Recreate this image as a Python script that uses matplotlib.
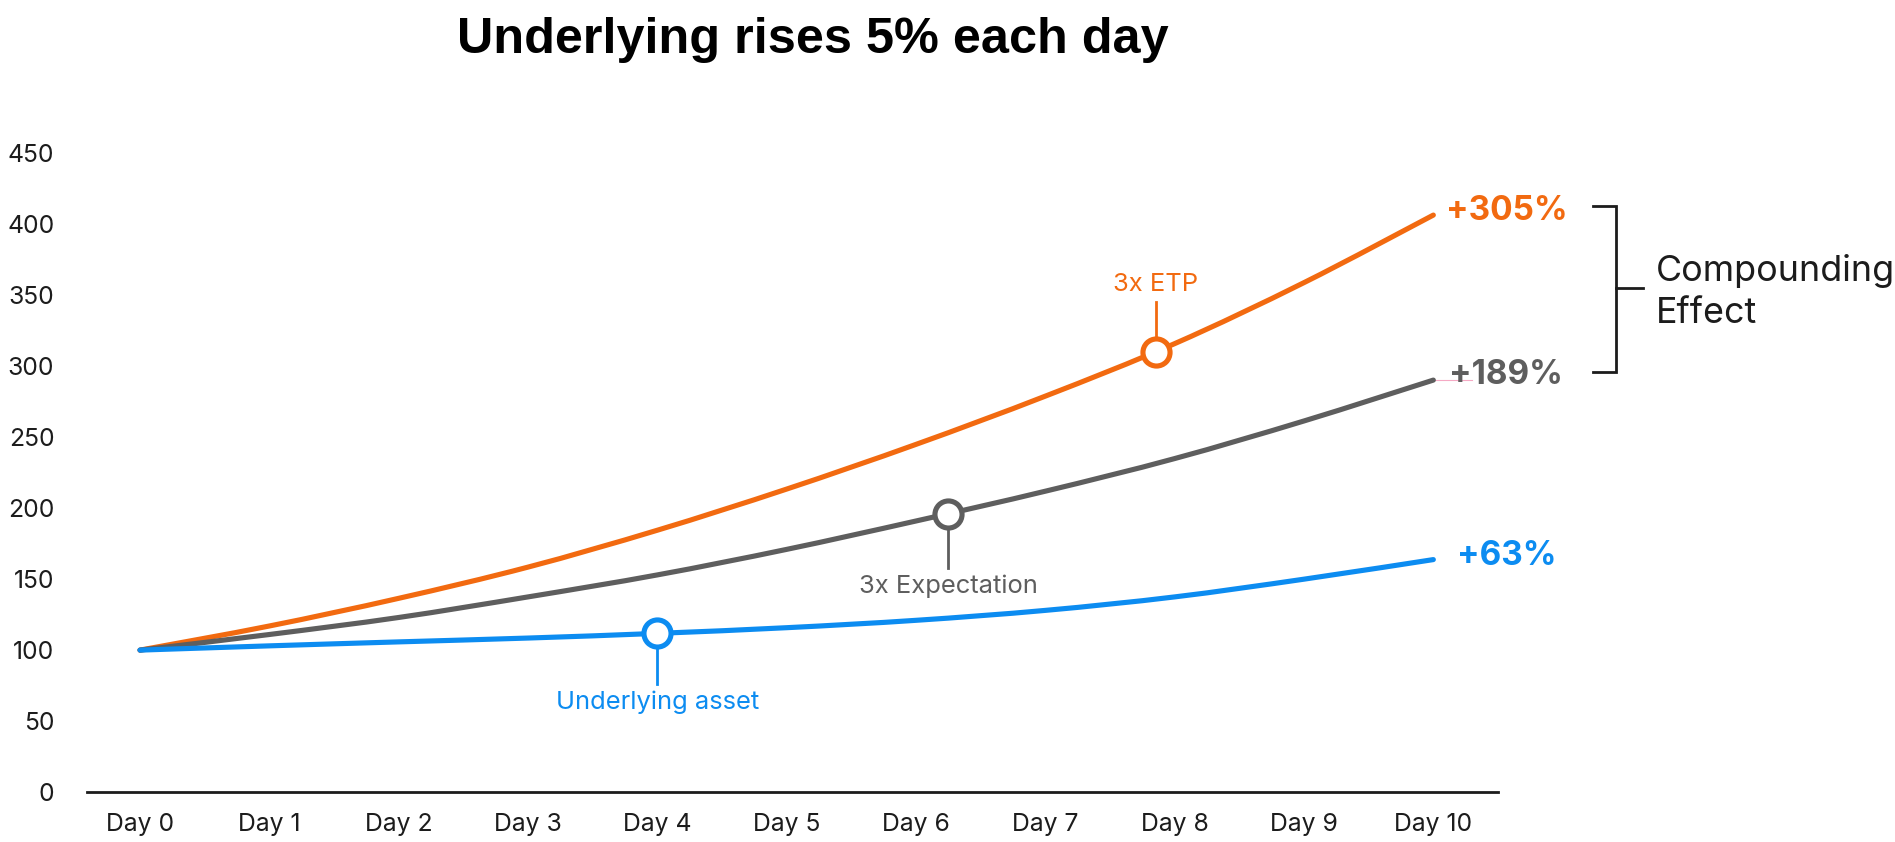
import matplotlib
matplotlib.use("Agg")
import matplotlib.pyplot as plt
from matplotlib.path import Path
from matplotlib.patches import PathPatch
import numpy as np

# ---- data ----
days = list(range(11))
day_labels = [f"Day {d}" for d in days]
underlying = [100, 103.0, 105.8, 108.5, 111.8, 115.8, 121.0, 128.0, 137.5, 150.0, 163.8]
expectation_3x = [100, 111.0, 123.0, 137.5, 153.0, 171.0, 191.0, 212.0, 235.0, 261.5, 290.3]
etp_3x = [100, 117.0, 136.5, 158.5, 184.5, 213.5, 245.0, 279.0, 316.0, 359.0, 406.6]
end_labels = ["+63%", "+189%", "+305%"]
yticks = [0, 50, 100, 150, 200, 250, 300, 350, 400, 450]

marker_days = {"blue": 4.0, "gray": 6.25, "orange": 7.855}

ORANGE = "#F26A10"
GRAY = "#5E5E5E"
BLUE = "#0C8CF1"
DARK = "#1C1C1C"


def bezier_ctrl(xs, ys):
    """Catmull-Rom control points for each segment."""
    xs = np.asarray(xs, float); ys = np.asarray(ys, float)
    n = len(xs)
    segs = []
    for i in range(n - 1):
        p0 = np.array([xs[max(i - 1, 0)], ys[max(i - 1, 0)]])
        p1 = np.array([xs[i], ys[i]])
        p2 = np.array([xs[i + 1], ys[i + 1]])
        p3 = np.array([xs[min(i + 2, n - 1)], ys[min(i + 2, n - 1)]])
        c1 = p1 + (p2 - p0) / 6.0
        c2 = p2 - (p3 - p1) / 6.0
        segs.append((p1, c1, c2, p2))
    return segs


def smooth_path(xs, ys):
    segs = bezier_ctrl(xs, ys)
    verts = [segs[0][0]]
    codes = [Path.MOVETO]
    for p1, c1, c2, p2 in segs:
        verts += [c1, c2, p2]
        codes += [Path.CURVE4] * 3
    return Path(verts, codes)


def curve_y(xs, ys, x):
    segs = bezier_ctrl(xs, ys)
    i = min(int(np.floor(x)), len(segs) - 1)
    p1, c1, c2, p2 = segs[i]
    lo, hi = 0.0, 1.0
    for _ in range(60):
        t = (lo + hi) / 2
        pt = ((1 - t) ** 3) * p1 + 3 * ((1 - t) ** 2) * t * c1 + 3 * (1 - t) * t * t * c2 + t ** 3 * p2
        if pt[0] < x:
            lo = t
        else:
            hi = t
    return pt[1]


W, H = 1895, 842
fig = plt.figure(figsize=(W / 100, H / 100), dpi=100)
ax = fig.add_axes([87 / W, 1 - 792 / H, (1498 - 87) / W, (792 - 153.5) / H])

ax.set_xlim(-0.41, 10.5)
ax.set_ylim(0, 450)

lw = 3.7
for series, c in [(etp_3x, ORANGE), (expectation_3x, GRAY), (underlying, BLUE)]:
    patch = PathPatch(smooth_path(days, series), facecolor="none", edgecolor=c, lw=lw,
                      capstyle="round", joinstyle="round", zorder=3)
    ax.add_patch(patch)

# faint pink guide near +189%
ax.plot([10.0, 10.3], [expectation_3x[-1], expectation_3x[-1]], color="#F5A9C4", lw=0.8, zorder=2)

# markers
mb = marker_days["blue"]; vb = curve_y(days, underlying, mb)
mg = marker_days["gray"]; vg = curve_y(days, expectation_3x, mg)
mo = marker_days["orange"]; vo = curve_y(days, etp_3x, mo)

ms = 19.5
mew = 3.7
ax.plot([mb, mb], [vb, 76.1], color=BLUE, lw=2.0, zorder=4)
ax.plot([mg, mg], [vg, 157.9], color=GRAY, lw=2.0, zorder=4)
ax.plot([mo, mo], [vo, 345.3], color=ORANGE, lw=2.0, zorder=4)
for x, v, c in [(mb, vb, BLUE), (mg, vg, GRAY), (mo, vo, ORANGE)]:
    ax.plot([x], [v], marker="o", ms=ms, mew=mew, mfc="white", mec=c, zorder=5)

font = ["Inter", "DejaVu Sans"]
ax.text(mb, 63.0, "Underlying asset", color=BLUE, fontsize=18.4, family=font,
        ha="center", va="center")
ax.text(mg, 145.0, "3x Expectation", color=GRAY, fontsize=18.4, family=font,
        ha="center", va="center")
ax.text(mo, 358.0, "3x ETP", color=ORANGE, fontsize=18.4, family=font,
        ha="center", va="center")

# end labels
xl = 10.565
ax.text(xl, 409.5, end_labels[2], color=ORANGE, fontsize=24, fontweight="bold",
        family=font, ha="center", va="center", clip_on=False)
ax.text(xl, 294.0, end_labels[1], color=GRAY, fontsize=24, fontweight="bold",
        family=font, ha="center", va="center", clip_on=False)
ax.text(xl, 166.5, end_labels[0], color=BLUE, fontsize=24, fontweight="bold",
        family=font, ha="center", va="center", clip_on=False)

# bracket
bx0, bx1, bx2 = 11.235, 11.415, 11.624
by_top, by_bot, by_mid = 413.0, 296.2, 355.2
ax.plot([bx0, bx1, bx1, bx0], [by_top, by_top, by_bot, by_bot], color=DARK, lw=2.0,
        clip_on=False, solid_joinstyle="miter")
ax.plot([bx1, bx2], [by_mid, by_mid], color=DARK, lw=2.0, clip_on=False)
ax.text(11.72, 367.5, "Compounding", color=DARK, fontsize=25.8, family=font,
        ha="left", va="center", clip_on=False)
ax.text(11.72, 337.5, "Effect", color=DARK, fontsize=25.8, family=font,
        ha="left", va="center", clip_on=False)

# axes styling
for s in ["top", "right", "left"]:
    ax.spines[s].set_visible(False)
ax.spines["bottom"].set_color(DARK)
ax.spines["bottom"].set_linewidth(2.0)
ax.set_xticks(days)
ax.set_xticklabels(day_labels, family=font, fontsize=17.8, color=DARK)
ax.set_yticks(yticks)
ax.set_yticklabels([str(v) for v in yticks], family=font, fontsize=17.8, color=DARK)
ax.tick_params(axis="both", length=0)
ax.tick_params(axis="y", pad=23.5)
ax.tick_params(axis="x", pad=15)

fig.text(813 / W, 1 - 40 / H, "Underlying rises 5% each day", fontsize=36.3,
         fontweight="bold", family=["Liberation Sans", "DejaVu Sans"], ha="center",
         va="center", color="black")

fig.savefig("out.png", dpi=100, facecolor="white")
